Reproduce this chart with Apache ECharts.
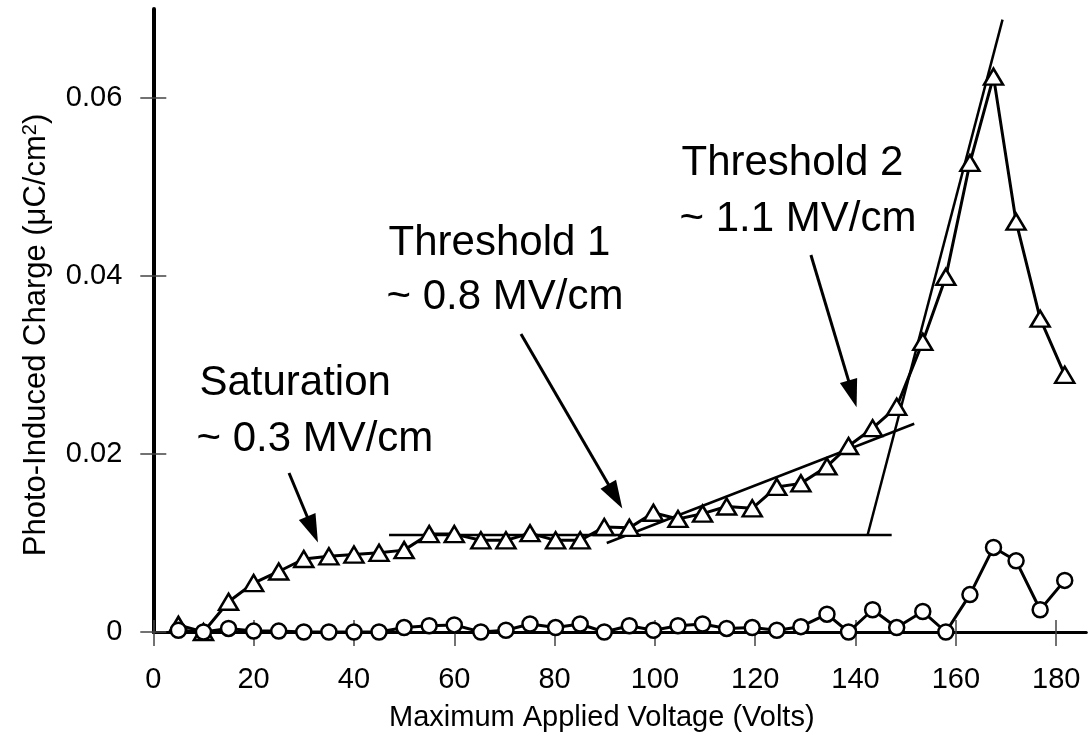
<!DOCTYPE html>
<html>
<head>
<meta charset="utf-8">
<script src="https://cdn.jsdelivr.net/npm/echarts@6/dist/echarts.min.js"></script>
<style>
html,body{margin:0;padding:0;background:#fff;}
#chart{width:1088px;height:740px;}
</style>
</head>
<body>
<div id="chart"></div>
<script>
// ---- data ----
const voltage = [5,10,15,20,25,30,35,40,45,50,55,60,65.3,70.3,75.1,80.2,85.1,89.9,94.9,99.7,104.6,109.5,114.3,119.4,124.3,129.1,134.3,138.6,143.4,148.2,153.4,158,162.8,167.5,172,176.8,181.7];
const chargeTriangles = [0.0008,0,0.0034,0.0055,0.0068,0.0082,0.0085,0.0087,0.0089,0.0092,0.0110,0.0110,0.0103,0.0103,0.0111,0.0103,0.0103,0.0118,0.0117,0.0134,0.0127,0.0133,0.0141,0.0139,0.0163,0.0167,0.0186,0.0209,0.0229,0.0253,0.0326,0.0399,0.0527,0.0624,0.0461,0.0352,0.0289];
const chargeCircles = [0.0002,0,0.0004,0.0001,0.0001,0,0,0,0,0.0005,0.0007,0.0008,0,0.0002,0.0009,0.0005,0.0009,0,0.0007,0.0002,0.0007,0.0009,0.0004,0.0005,0.0002,0.0006,0.0020,0,0.0025,0.0005,0.0023,0,0.0042,0.0095,0.0080,0.0025,0.0058];

// fitted straight lines [x, y] endpoints
const fitPlateau = [[47, 0.0109], [147.2, 0.0109]];
const fitThreshold1 = [[90.4, 0.0100], [151.7, 0.0234]];
const fitThreshold2 = [[142.4, 0.0109], [169.3, 0.0688]];

// annotation texts and anchors (data units, left / middle of text)
const annText = ['Saturation', '~ 0.3 MV/cm', 'Threshold 1', '~ 0.8 MV/cm', 'Threshold 2', '~ 1.1 MV/cm'];
const annX = [9.2, 8.6, 46.9, 46.5, 105.3, 104.9];
const annY = [0.0279, 0.0216, 0.0437, 0.0376, 0.0527, 0.0464];

// arrows: start and arrow-head centre (data units)
const arrowStart = [[27.06, 0.01787], [73.3, 0.03348], [131.1, 0.04236]];
const arrowEnd = [[31.75, 0.01152], [92.1, 0.01525], [139.4, 0.02675]];

// ticks
const xTicks = [0,20,40,60,80,100,120,140,160,180];
const yTicks = [0,0.02,0.04,0.06];

const FONT = 'Liberation Sans, Arial, Helvetica, sans-serif';

const chart = echarts.init(document.getElementById('chart'), null, {renderer: 'canvas'});

const xBase = {
  type: 'value', min: 0, max: 186, interval: 20,
  splitLine: {show: false}
};
const yBase = {
  type: 'value', min: 0, max: 0.07, interval: 0.02,
  splitLine: {show: false}
};

const option = {
  animation: false,
  backgroundColor: '#fff',
  grid: {left: 153.3, right: 1.7, top: 9, bottom: 108, containLabel: false},
  xAxis: [
    Object.assign({}, xBase, {
      position: 'bottom',
      name: 'Maximum Applied Voltage (Volts)',
      nameLocation: 'middle', nameGap: 71,
      nameTextStyle: {fontFamily: FONT, fontSize: 29, color: '#000', padding: [0, 36, 0, 0]},
      axisLine: {show: true, lineStyle: {color: '#000', width: 3}},
      axisTick: {show: true, inside: false, length: 14, customValues: xTicks, lineStyle: {color: '#444', width: 1.5}},
      axisLabel: {show: true, customValues: xTicks, margin: 33, fontFamily: FONT, fontSize: 29, color: '#000'}
    }),
    Object.assign({}, xBase, {
      position: 'bottom',
      axisLine: {show: false},
      axisTick: {show: true, inside: true, length: 12, customValues: xTicks, lineStyle: {color: '#444', width: 1.5}},
      axisLabel: {show: false}
    })
  ],
  yAxis: [
    Object.assign({}, yBase, {
      position: 'left',
      name: 'Photo-Induced Charge (μC/cm{sup|2})',
      nameLocation: 'middle', nameGap: 100, nameRotate: 90,
      nameTextStyle: {fontFamily: FONT, fontSize: 31, color: '#000', padding: [0, 29, 0, 0],
        rich: {sup: {fontFamily: FONT, fontSize: 20, color: '#000', verticalAlign: 'top', padding: [0, 0, 13, 0]}}},
      axisLine: {show: true, lineStyle: {color: '#000', width: 4}},
      axisTick: {show: true, inside: false, length: 13, customValues: yTicks, lineStyle: {color: '#444', width: 1.5}},
      axisLabel: {show: true, customValues: yTicks, margin: 31, fontFamily: FONT, fontSize: 29, color: '#000',
        formatter: v => (v === 0 ? '0' : v.toFixed(2))}
    }),
    Object.assign({}, yBase, {
      position: 'left',
      axisLine: {show: false},
      axisTick: {show: true, inside: true, length: 13, customValues: yTicks, lineStyle: {color: '#444', width: 1.5}},
      axisLabel: {show: false}
    })
  ],
  series: [
    {
      type: 'line', name: 'fitPlateau', data: fitPlateau, showSymbol: false, symbol: 'none',
      lineStyle: {color: '#000', width: 2.5}, silent: true, z: 2
    },
    {
      type: 'line', name: 'fitThreshold1', data: fitThreshold1, showSymbol: false, symbol: 'none',
      lineStyle: {color: '#000', width: 2.5}, silent: true, z: 2
    },
    {
      type: 'line', name: 'fitThreshold2', data: fitThreshold2, showSymbol: false, symbol: 'none',
      lineStyle: {color: '#000', width: 2.5}, silent: true, z: 2
    },
    {
      type: 'line', name: 'triangles',
      data: voltage.map((x, i) => [x, chargeTriangles[i]]),
      symbol: 'triangle', symbolSize: [19, 16], showAllSymbol: true,
      lineStyle: {color: '#000', width: 3},
      itemStyle: {color: '#fff', borderColor: '#000', borderWidth: 2.5},
      silent: true, z: 3,
      markLine: {
        silent: true, animation: false,
        symbol: ['none', 'triangle'],
        label: {show: false},
        lineStyle: {color: '#000', width: 3, type: 'solid', opacity: 1},
        itemStyle: {color: '#000', opacity: 1},
        data: arrowStart.map((s, i) => [
          {coord: s, symbol: 'none'},
          {coord: arrowEnd[i], symbol: 'triangle', symbolSize: [18, 28]}
        ])
      }
    },
    {
      type: 'line', name: 'circles',
      data: voltage.map((x, i) => [x, chargeCircles[i]]),
      symbol: 'circle', symbolSize: 15, showAllSymbol: true,
      lineStyle: {color: '#000', width: 3},
      itemStyle: {color: '#fff', borderColor: '#000', borderWidth: 2.5},
      silent: true, z: 4
    },
    {
      type: 'scatter', name: 'annotations',
      data: annText.map((t, i) => ({value: [annX[i], annY[i]], name: t})),
      symbolSize: 0, silent: true, z: 5,
      itemStyle: {opacity: 1},
      label: {
        show: true, position: 'right', distance: 0, opacity: 1,
        formatter: p => p.name,
        fontFamily: FONT, fontSize: 42, color: '#000', align: 'left', verticalAlign: 'middle'
      }
    }
  ]
};
chart.setOption(option);
</script>
</body>
</html>
